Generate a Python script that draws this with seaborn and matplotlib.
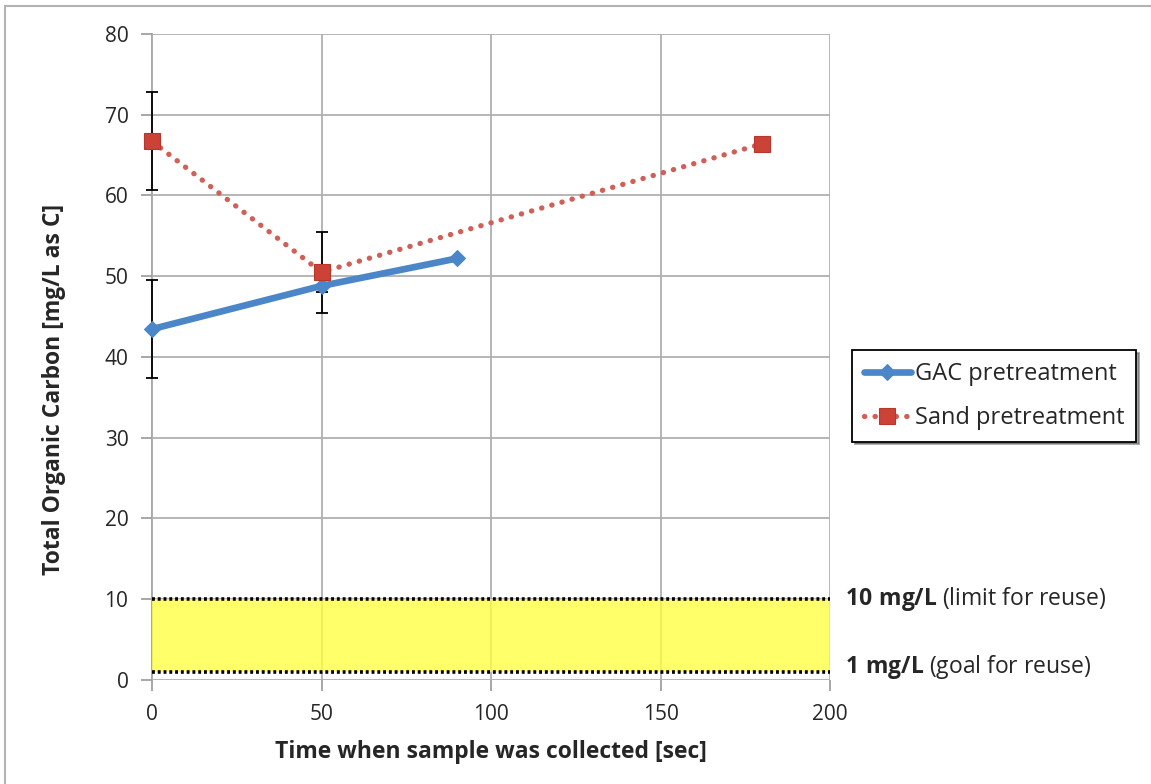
import matplotlib
matplotlib.use("Agg")
import matplotlib.pyplot as plt
import numpy as np
import pandas as pd
import seaborn as sns

# Measured total organic carbon (mg/L as C) at sampling time (sec)
gac_time = [0, 50, 90]
gac_toc = [43.45, 48.8, 52.2]
gac_err = [6.05, 0.8, 0.0]

sand_time = [0, 50, 180]
sand_toc = [66.7, 50.5, 66.4]
sand_err = [6.05, 5.0, 0.0]

reuse_goal = 1
reuse_limit = 10

x_ticks = [0, 50, 100, 150, 200]
y_ticks = [0, 10, 20, 30, 40, 50, 60, 70, 80]

sns.set_style("white")
plt.rcParams["font.family"] = ["Open Sans", "DejaVu Sans"]
plt.rcParams["mathtext.fontset"] = "custom"
plt.rcParams["mathtext.bf"] = "Open Sans:bold"
plt.rcParams["mathtext.rm"] = "Open Sans"

fig = plt.figure(figsize=(11.51, 7.84), dpi=100)
ax = fig.add_axes([0.1321, 0.1327, 0.589, 0.824])

# Outer chart frame
fig.patches.append(plt.Rectangle((0.0045, -0.01), 1.1, 1.0026, transform=fig.transFigure,
                                 fill=False, edgecolor="#b3b3b3", linewidth=1.5, zorder=0))

gac_color = "#4a86c8"
sand_line = "#cf5f57"
sand_marker = "#cc4236"

df_gac = pd.DataFrame({"time": gac_time, "toc": gac_toc})
df_sand = pd.DataFrame({"time": sand_time, "toc": sand_toc})

# Reuse band between goal and limit
ax.fill_between([x_ticks[0], x_ticks[-1]], reuse_goal, reuse_limit,
                color="#ffff40", alpha=0.78, linewidth=0, zorder=1)
for lvl in (reuse_goal, reuse_limit):
    ax.axhline(lvl, color="black", linestyle=(0, (0.8, 0.8)), linewidth=2.6, zorder=3)

# Error bars
for t, v, e in ((gac_time, gac_toc, gac_err), (sand_time, sand_toc, sand_err)):
    eb = ax.errorbar(t, v, yerr=e, fmt="none", ecolor="black",
                     elinewidth=1.3, capsize=4, capthick=1.3, zorder=4)
    for art in eb.lines[1] + eb.lines[2]:
        art.set_clip_on(False)

sns.lineplot(data=df_gac, x="time", y="toc", ax=ax, color=gac_color, linewidth=4.8,
             marker="D", markersize=8.5, markeredgecolor=gac_color,
             label="GAC pretreatment", zorder=5, clip_on=False)
sns.lineplot(data=df_sand, x="time", y="toc", ax=ax, color=sand_line, linewidth=3.8,
             linestyle=(0, (0.05, 1.95)), dash_capstyle="round",
             marker="s", markersize=12, markerfacecolor=sand_marker,
             markeredgecolor="#b8372c", markeredgewidth=0.8,
             label="Sand pretreatment", zorder=5, clip_on=False)

ax.set_xlim(0, 200)
ax.set_ylim(0, 80)
ax.set_xticks(x_ticks)
ax.set_yticks(y_ticks)
ax.grid(True, color="#b0b0b0", linewidth=1.3)
ax.set_axisbelow(True)
for side in ("top", "right", "bottom"):
    ax.spines[side].set_visible(False)
ax.spines["left"].set_color("#a0a0a0")
ax.spines["left"].set_linewidth(1.3)
ax.spines["left"].set_zorder(0.5)
ax.tick_params(axis="both", which="both", length=8, width=1.3, color="#a0a0a0",
               labelsize=15, direction="out", left=True, bottom=True)
ax.tick_params(axis="y", pad=9)
ax.tick_params(axis="x", pad=9)

ax.set_xlabel("Time when sample was collected [sec]", fontsize=16.5, fontweight="bold", labelpad=11)
ax.set_ylabel("Total Organic Carbon [mg/L as C]", fontsize=16.5, fontweight="bold")
ax.yaxis.set_label_coords(-0.127, 0.449)

ax.text(1.022, reuse_limit, r"$\bf{10\ mg/L}$ (limit for reuse)", transform=ax.get_yaxis_transform(),
        ha="left", va="center", fontsize=16.5)
ax.text(1.022, reuse_goal + 0.6, r"$\bf{1\ mg/L}$ (goal for reuse)", transform=ax.get_yaxis_transform(),
        ha="left", va="center", fontsize=16.5)

ax.get_legend().remove()
handles, labels = ax.get_legend_handles_labels()
leg = fig.legend(handles, labels, loc="upper left", bbox_to_anchor=(0.7402, 0.5536),
                 borderaxespad=0, fontsize=17, frameon=True, fancybox=False, shadow=True,
                 handlelength=2.0, handletextpad=0.15, borderpad=0.5, labelspacing=0.85)
leg.get_frame().set_edgecolor("black")
leg.get_frame().set_linewidth(1.3)

fig.savefig("out.png", dpi=100)
